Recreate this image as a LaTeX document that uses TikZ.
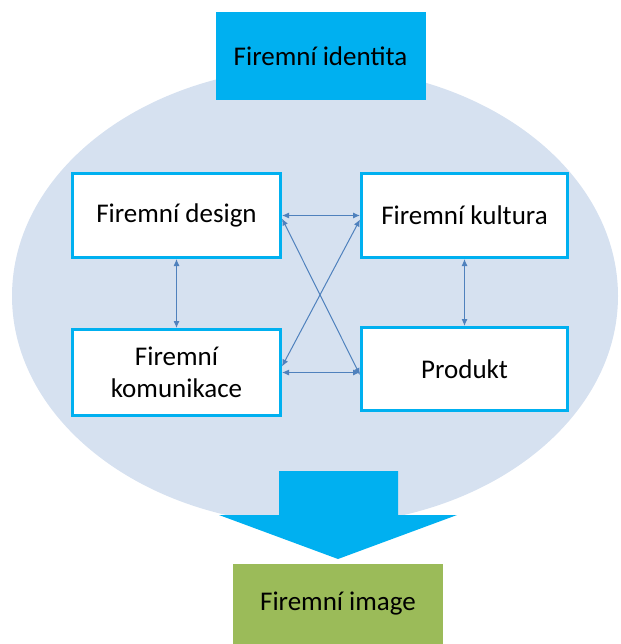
\documentclass[tikz,border=0pt]{standalone}
\usepackage{fontspec}
\setmainfont{Carlito}
\usetikzlibrary{arrows.meta}
\definecolor{cyanbox}{HTML}{00B0F0}
\definecolor{ellfill}{HTML}{D6E1F0}
\definecolor{linkblue}{HTML}{4F81BD}
\definecolor{greenbox}{HTML}{9BBB59}
\tikzset{
  txt/.style={font=\fontsize{27}{32}\selectfont, text=black, align=center},
  framed/.style={txt, draw=cyanbox, line width=3pt, fill=white, rectangle,
                 inner sep=0pt},
  link/.style={draw=linkblue, line width=1pt,
               {Latex[length=7pt,width=6pt]}-{Latex[length=7pt,width=6pt]}},
}
\begin{document}
\begin{tikzpicture}[x=1pt,y=-1pt]
\useasboundingbox (0,0) rectangle (620,644);
% background ellipse
\fill[ellfill] (315,296) ellipse [x radius=303, y radius=229];
% title box
\node[txt, fill=cyanbox, minimum width=210pt, minimum height=88pt, inner sep=0pt]
  (ident) at (320.5,56) {Firemní identita};
% the four framed boxes
\node[framed, minimum width=208pt, minimum height=84pt] (design) at (176.5,215.5) {Firemní design};
\node[framed, minimum width=206pt, minimum height=84pt] (kultura) at (464.5,215.5) {Firemní kultura};
\node[framed, minimum width=208pt, minimum height=86pt] (komun) at (176.5,372.5) {Firemní\\komunikace};
\node[framed, minimum width=206pt, minimum height=83pt] (produkt) at (464.5,369) {Produkt};
% connectors
\draw[link] (design.east) -- (kultura.west);
\draw[link] (komun.east) -- (komun.east -| produkt.west);
\draw[link] (design.south) -- (komun.north);
\draw[link] (kultura.south) -- (produkt.north);
\draw[link] ([yshift=-3pt]design.east) -- ([yshift=-6pt]produkt.west);
\draw[link] ([yshift=-4pt]kultura.west) -- ([yshift=6pt]komun.east);
% big downward arrow
\fill[cyanbox] (279,471) -- (398,471) -- (398,515) -- (457,515) -- (338,559)
  -- (219,515) -- (279,515) -- cycle;
% result box
\node[txt, fill=greenbox, minimum width=210pt, minimum height=80pt, inner sep=0pt]
  (image) at (338,604) {Firemní image};
\end{tikzpicture}
\end{document}
